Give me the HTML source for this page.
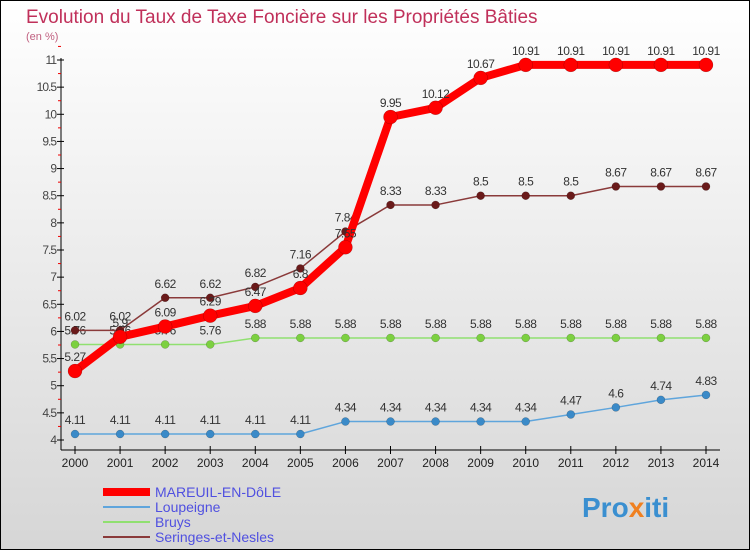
<!DOCTYPE html>
<html><head><meta charset="utf-8"><style>
body{margin:0}
#c{width:750px;height:550px;position:relative;overflow:hidden;font-family:"Liberation Sans",sans-serif}
</style></head><body>
<div id="c">
<svg id="s" width="750" height="550" xmlns="http://www.w3.org/2000/svg">
<defs><linearGradient id="bg" x1="0" y1="0" x2="0" y2="1"><stop offset="0" stop-color="#ffffff"/><stop offset="1" stop-color="#d6d6d6"/></linearGradient></defs>
<rect x="0.5" y="0.5" width="749" height="549" fill="url(#bg)" stroke="#000" stroke-width="1"/>
<text x="26" y="23" font-size="19" fill="#c0305a">Evolution du Taux de Taxe Foncière sur les Propriétés Bâties</text>
<text x="26" y="40" font-size="11" fill="#c06080">(en %)</text>
<g id="axes"></g><g id="series"></g><g id="legend"></g>
<text x="582" y="517" font-size="28" font-weight="bold" fill="#3a8fd0">Pro<tspan fill="#f08020">x</tspan>iti</text>
</svg></div>
<script>
const years=[2000,2001,2002,2003,2004,2005,2006,2007,2008,2009,2010,2011,2012,2013,2014];
const yTicks=[4,4.5,5,5.5,6,6.5,7,7.5,8,8.5,9,9.5,10,10.5,11];
const mareuil=[5.27,5.9,6.09,6.29,6.47,6.8,7.55,9.95,10.12,10.67,10.91,10.91,10.91,10.91,10.91];
const loupeigne=[4.11,4.11,4.11,4.11,4.11,4.11,4.34,4.34,4.34,4.34,4.34,4.47,4.6,4.74,4.83];
const bruys=[5.76,5.76,5.76,5.76,5.88,5.88,5.88,5.88,5.88,5.88,5.88,5.88,5.88,5.88,5.88];
const seringes=[6.02,6.02,6.62,6.62,6.82,7.16,7.84,8.33,8.33,8.5,8.5,8.5,8.67,8.67,8.67];
const names=["MAREUIL-EN-DôLE","Loupeigne","Bruys","Seringes-et-Nesles"];
const NS="http://www.w3.org/2000/svg";
const X=i=>75+i*(706-75)/14;
const Y=v=>440-(v-4)*(380/7);
function mk(t,a,p){const e=document.createElementNS(NS,t);for(const k in a)e.setAttribute(k,a[k]);p.appendChild(e);return e;}
const ax=document.getElementById('axes');
const yl=mk('line',{x1:61,y1:58,x2:61,y2:450,stroke:'#000'},ax);


const xl=mk('line',{x1:61,y1:450,x2:720,y2:450,stroke:'#000'},ax);


yTicks.forEach(v=>{
  mk('line',{x1:57,y1:Y(v),x2:64,y2:Y(v),stroke:'#000'},ax);
  mk('line',{x1:58,y1:Y(v+0.25),x2:61,y2:Y(v+0.25),stroke:'#e00'},ax);
  const t=mk('text',{x:56,y:Y(v)+4,'font-size':12,fill:'#444','text-anchor':'end','letter-spacing':'-1'},ax);
  t.textContent=String(v);
  
  
});
years.forEach((y,i)=>{
  mk('line',{x1:X(i),y1:446,x2:X(i),y2:454,stroke:'#000'},ax);
  const t=mk('text',{x:X(i),y:467,'font-size':12,fill:'#222','text-anchor':'middle'},ax);
  t.textContent=y;
  
  
});
const sg=document.getElementById('series');
function draw(data,color,w,r,dot,name){
  const g=mk('g',{},sg);
  
  
  mk('polyline',{points:data.map((v,i)=>X(i)+','+Y(v)).join(' '),fill:'none',stroke:color,'stroke-width':w,'stroke-linejoin':'round'},g);
  data.forEach((v,i)=>{
    const c=mk('circle',{cx:X(i),cy:Y(v),r:r,fill:dot,stroke:'rgba(0,0,0,0.3)','stroke-width':0.5},g);
    
    
    const t=mk('text',{x:X(i),y:Y(v)-10,'font-size':12,fill:'#333','text-anchor':'middle','letter-spacing':'-0.5'},g);
    t.textContent=String(v);
    
    
  });
}
draw(loupeigne,'#5fa5dc',1.5,4,'#3a8ac8','series-loupeigne');
draw(bruys,'#90e070',1.5,4,'#7cd040','series-bruys');
draw(seringes,'#8a3a3a',1.5,4,'#6a1a1a','series-seringes');
draw(mareuil,'#ff0000',8,7,'#ff0000','series-mareuil');
const lg=document.getElementById('legend');
const cols=['#ff0000','#5fa5dc','#90e070','#8a3a3a'],ws=[8,2,2,2];
names.forEach((n,i)=>{
  const y=492+i*15;
  const g=mk('g',{},lg);
  
  
  mk('line',{x1:103,y1:y,x2:150,y2:y,stroke:cols[i],'stroke-width':ws[i]},g);
  const t=mk('text',{x:155,y:y+5,'font-size':14,fill:'#5050e0'},g);
  t.textContent=n;
});
</script>
</body></html>
